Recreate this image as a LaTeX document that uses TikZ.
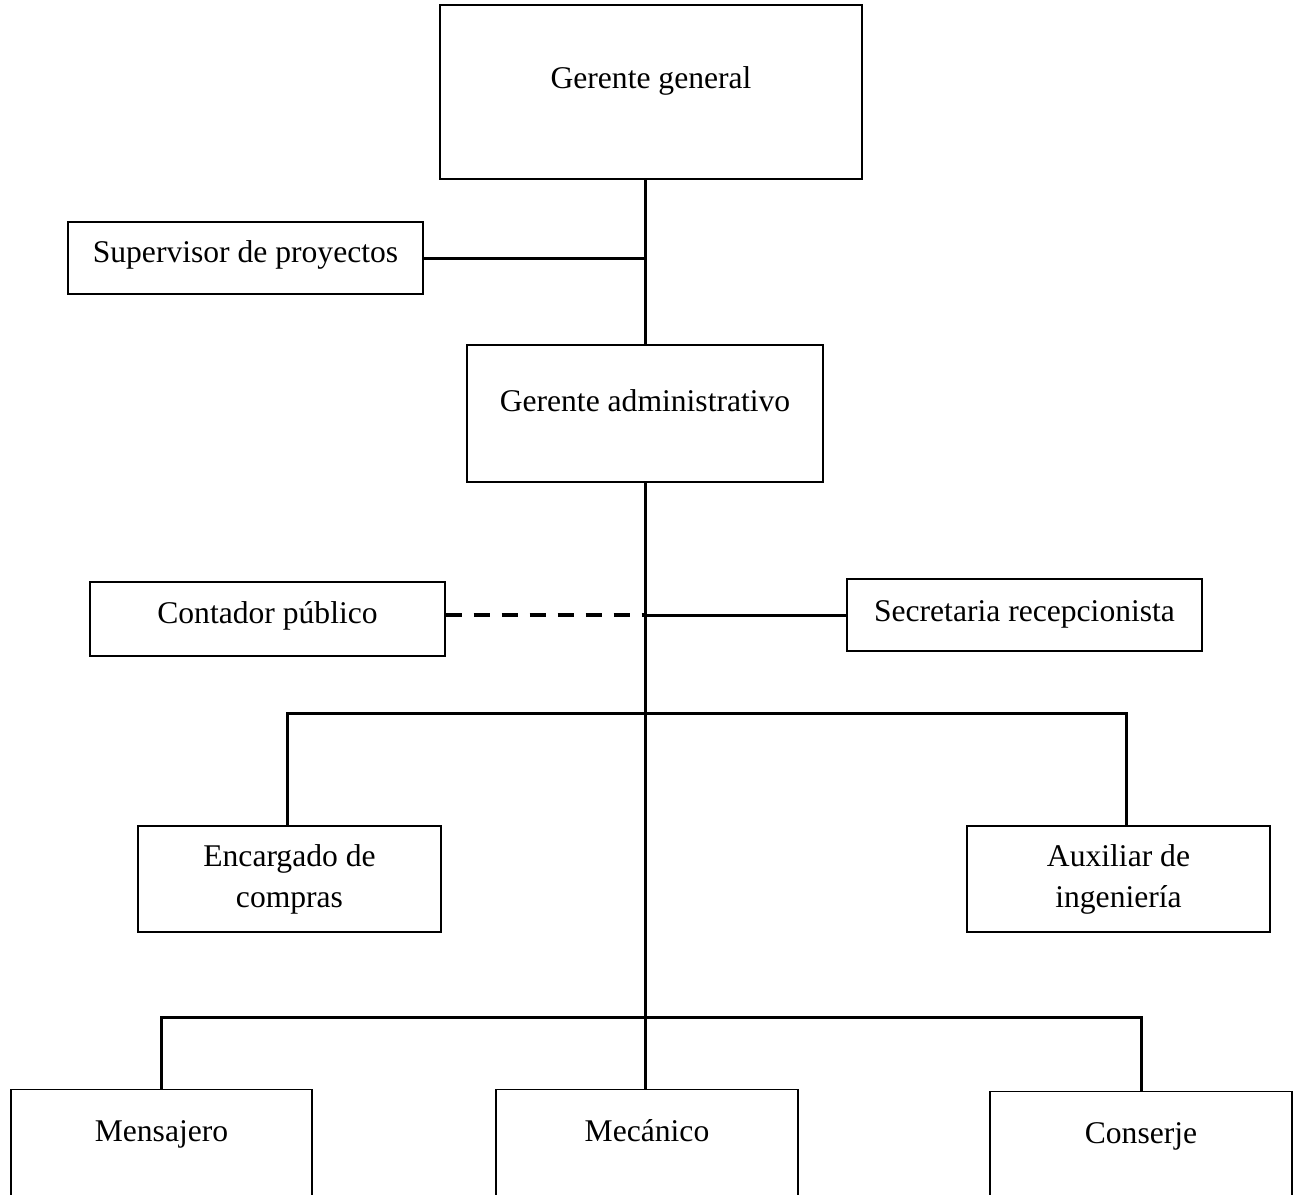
\documentclass[tikz,border=0pt]{standalone}
\usepackage{fontspec}
\setmainfont{Liberation Serif}
\usepackage{tikz}
\usetikzlibrary{positioning}

\begin{document}
\begin{tikzpicture}[x=0.5pt,y=-0.5pt,
  puesto/.style={draw, line width=0.7pt, inner sep=0pt, text height=11pt, text depth=#1,
    font=\fontsize{15.8pt}{20.5pt}\selectfont},
  puesto/.default=0pt,
  puestodos/.style={draw, line width=0.7pt, inner sep=0pt, align=center,
    font=\fontsize{15.8pt}{20.5pt}\selectfont},
  enlace/.style={line width=1.5pt},
  asesor/.style={line width=2.2pt, dash pattern=on 8pt off 6pt}]
\useasboundingbox (0,0) rectangle (1301,1194);
% cargos
\node[puesto=15pt, minimum width=211pt, minimum height=87pt] (gg) at (651,92) {Gerente general};
\node[puesto=7pt, minimum width=177.5pt, minimum height=36pt] (sp) at (245.5,258) {Supervisor de proyectos};
\node[puesto=13.5pt, minimum width=178pt, minimum height=68.5pt] (ga) at (645,413.5) {Gerente administrativo};
\node[puesto=7pt, minimum width=177.5pt, minimum height=37pt] (cp) at (267.5,619) {Contador público};
\node[puesto=5pt, minimum width=177.5pt, minimum height=36pt] (sr) at (1024.5,615) {Secretaria recepcionista};
\node[puestodos, minimum width=151.5pt, minimum height=53pt] (ec) at (289.5,879) {Encargado de\\compras};
\node[puestodos, minimum width=151.5pt, minimum height=53pt] (ai) at (1118.5,879) {Auxiliar de\\ingeniería};
\node[puesto=24pt, anchor=north, minimum width=150.5pt, minimum height=65pt] (me) at (161.5,1089) {Mensajero};
\node[puesto=24pt, anchor=north, minimum width=151pt, minimum height=65pt] (mc) at (647,1089) {Mecánico};
\node[puesto=24pt, anchor=north, minimum width=151pt, minimum height=65pt] (co) at (1141,1091) {Conserje};
% lineas de mando
\coordinate (bus1) at (645,713);
\coordinate (bus2) at (645,1017);
\draw[enlace] (gg.south -| ga.north) -- (ga.north);
\draw[enlace] (sp.east) -- (sp.east -| ga.north);
\draw[enlace] (ga.south) -- (mc.north -| ga.south);
\draw[asesor] ([yshift=2pt]cp.east) -- ([yshift=2pt]cp.east -| ga.south);
\draw[enlace] (sr.west -| ga.south) -- (sr.west);
\draw[enlace] ([xshift=-1.25pt]ec.north) |- (bus1) -| ([xshift=3.75pt]ai.north);
\draw[enlace] (me.north) |- (bus2) -| (co.north);
\end{tikzpicture}
\end{document}
